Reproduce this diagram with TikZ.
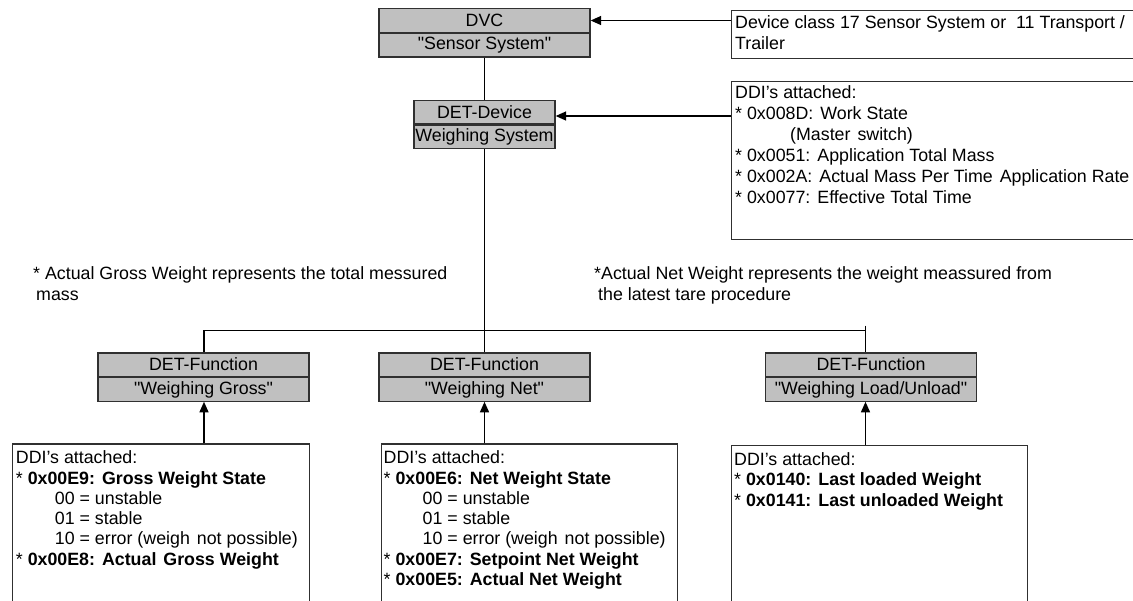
\documentclass[tikz,border=0pt]{standalone}
\usepackage{fontspec}
\setmainfont{Liberation Sans}
\usetikzlibrary{arrows.meta}
\definecolor{boxgray}{HTML}{C0C0C0}
\definecolor{edge}{HTML}{303030}
\newcommand{\qt}[1]{\textquotedbl#1\textquotedbl}
\newcommand{\gap}{\hspace{7pt}}

\begin{document}
\begin{tikzpicture}[x=1pt,y=-1pt,
  every node/.style={font=\fontsize{17.8}{21}\selectfont, text=black},
  part/.style={draw=edge, line width=1.3pt, fill=boxgray, inner sep=0pt, minimum height=23.5pt},
  memo/.style={draw=edge, line width=1.3pt, fill=white, anchor=north west, inner sep=0pt},
  body/.style={anchor=north west, align=left, inner sep=0pt},
  ddibody/.style={body, font=\fontsize{17.8}{20.3}\selectfont},
  link/.style={line width=1.4pt, draw=black},
  feed/.style={link, -{Triangle[length=10.5pt,width=9pt]}}]

\useasboundingbox (0,0) rectangle (1133,600);
\clip (0,0) rectangle (1133,600);

% device description object
\node[part, minimum width=211pt] (dvc) at (484.5,20.5) {DVC};
\node[part, minimum width=211pt, anchor=north] (dvcname) at (dvc.south) {\qt{Sensor System}};

% device element: weighing system
\node[part, minimum width=141pt] (dev) at (484.5,112) {DET-Device};
\node[part, minimum width=141pt, anchor=north] (devname) at (dev.south) {Weighing System};

% device elements: functions
\node[part, minimum width=211pt] (fgross) at (203.5,364.6) {DET-Function};
\node[part, minimum width=211pt, anchor=north] (fgrossname) at (fgross.south) {\qt{Weighing Gross}};
\node[part, minimum width=211pt] (fnet) at (484.5,364.6) {DET-Function};
\node[part, minimum width=211pt, anchor=north] (fnetname) at (fnet.south) {\qt{Weighing Net}};
\node[part, minimum width=211pt] (fload) at (871,364.6) {DET-Function};
\node[part, minimum width=211pt, anchor=north] (floadname) at (fload.south) {\qt{Weighing Load/Unload}};

% annotation boxes on the right
\node[memo, minimum width=420pt, minimum height=48pt] (devclass) at (731,10) {};
\node[body] (devclasstext) at (735,15.5) {Device class 17 Sensor System or \ 11 Transport /\\Trailer};

\node[memo, minimum width=420pt, minimum height=158pt] (ddidev) at (731,81) {};
\node[body] (ddidevtext) at (735,85.2) {DDI's attached:\\
* 0x008D:\gap Work State\\
\hspace*{55pt}(Master\gap switch)\\
* 0x0051:\gap Application Total Mass\\
* 0x002A:\gap Actual Mass Per Time\gap Application Rate\\
* 0x0077:\gap Effective Total Time};

% explanatory notes
\node[body] (notegross) at (33,266.5) {* Actual Gross Weight represents the total messured\\\hspace*{3pt}mass};
\node[body] (notenet) at (594,266.5) {*Actual Net Weight represents the weight meassured from\\\hspace*{4pt}the latest tare procedure};

% DDI lists of the functions
\node[memo, minimum width=297pt, minimum height=200pt] (ddigross) at (12,443.3) {};
\node[ddibody] (ddigrosstext) at (15.7,450.6) {DDI's attached:\\
* \textbf{0x00E9:\gap Gross Weight State}\\
\hspace*{39pt}00 = unstable\\
\hspace*{39pt}01 = stable\\
\hspace*{39pt}10 = error (weigh\gap not possible)\\
* \textbf{0x00E8:\gap Actual\gap Gross Weight}};

\node[memo, minimum width=296pt, minimum height=200pt] (ddinet) at (381,443.3) {};
\node[ddibody] (ddinettext) at (383.5,450.6) {DDI's attached:\\
* \textbf{0x00E6:\gap Net Weight State}\\
\hspace*{39pt}00 = unstable\\
\hspace*{39pt}01 = stable\\
\hspace*{39pt}10 = error (weigh\gap not possible)\\
* \textbf{0x00E7:\gap Setpoint Net Weight}\\
* \textbf{0x00E5:\gap Actual Net Weight}};

\node[memo, minimum width=296pt, minimum height=200pt] (ddiload) at (731,445) {};
\node[ddibody] (ddiloadtext) at (734,452.3) {DDI's attached:\\
* \textbf{0x0140:\gap Last loaded Weight}\\
* \textbf{0x0141:\gap Last unloaded Weight}};

% tree connectors
\coordinate (busL) at (204,330.5);
\coordinate (busR) at (865.5,330.5);
\coordinate (tickR) at (865.5,325.5);
\coordinate (devin) at (dev.east |- 0,116);

\draw[link] (dvcname.south) -- (dev.north);
\draw[link] (devname.south) -- (fnet.north);
\draw[link] (busL |- fgross.north) -- (busL) -- (busR);
\draw[link] (tickR) -- (tickR |- fload.north);

% attachment arrows
\draw[feed] (devclass.west |- dvc.east) -- (dvc.east);
\draw[feed] (ddidev.west |- devin) -- (devin);
\draw[feed] (busL |- ddigross.north) -- (busL |- fgrossname.south);
\draw[feed] (ddinet.north -| fnetname.south) -- (fnetname.south);
\draw[feed] (busR |- ddiload.north) -- (busR |- floadname.south);
\end{tikzpicture}
\end{document}
